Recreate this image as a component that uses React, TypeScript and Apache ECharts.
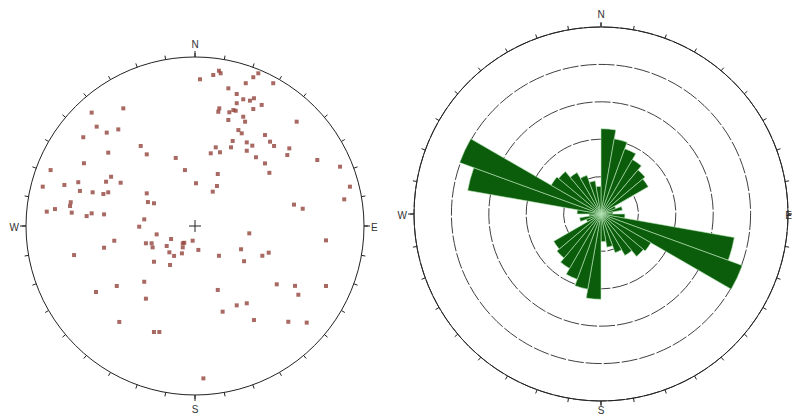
import React, { useEffect, useRef } from "react";
import * as echarts from "echarts";

// Poles to joint planes, lower-hemisphere projection, as (east, north) on the unit circle
const POLES: [number, number][] = [
  [0.03, 0.858], [0.109, 0.883], [0.143, 0.908], [0.153, 0.893], [0.348, 0.87],
  [0.378, 0.893], [0.467, 0.835], [0.303, 0.835], [0.199, 0.805], [0.249, 0.772],
  [0.288, 0.741], [0.328, 0.733], [0.352, 0.747], [0.249, 0.718], [0.398, 0.708],
  [0.348, 0.684], [0.145, 0.688], [0.139, 0.668], [0.205, 0.665], [0.229, 0.678],
  [0.243, 0.674], [0.288, 0.639], [0.299, 0.61], [0.199, 0.62], [0.607, 0.61],
  [0.259, 0.561], [0.279, 0.542], [0.418, 0.532], [0.448, 0.493], [0.472, 0.468],
  [0.225, 0.497], [0.309, 0.489], [0.342, 0.47], [0.215, 0.46], [0.124, 0.46],
  [0.094, 0.425], [0.149, 0.431], [0.309, 0.44], [0.364, 0.402], [0.563, 0.454],
  [0.551, 0.415], [0.418, 0.366], [0.444, 0.311], [0.73, 0.386], [0.866, 0.347],
  [0.925, 0.23], [0.891, 0.156], [0.591, 0.125], [0.643, 0.101], [0.136, 0.304],
  [0.131, 0.234], [0.106, 0.201], [0.006, 0.25], [-0.06, 0.327], [-0.115, 0.398],
  [-0.288, 0.419], [-0.324, 0.468], [-0.288, 0.191], [-0.281, 0.14], [-0.245, 0.133],
  [-0.303, 0.039], [-0.333, -0.004], [-0.617, 0.663], [-0.428, 0.688], [-0.587, 0.581],
  [-0.527, 0.546], [-0.458, 0.565], [-0.667, 0.519], [-0.518, 0.429], [-0.663, 0.367],
  [-0.862, 0.327], [-0.909, 0.23], [-0.78, 0.24], [-0.697, 0.256], [-0.687, 0.205],
  [-0.611, 0.197], [-0.547, 0.187], [-0.518, 0.197], [-0.531, 0.259], [-0.501, 0.288],
  [-0.444, 0.253], [-0.885, 0.084], [-0.836, 0.099], [-0.742, 0.139], [-0.746, 0.117],
  [-0.736, 0.078], [-0.647, 0.058], [-0.617, 0.074], [-0.543, 0.068], [-0.482, -0.086],
  [-0.543, -0.127], [-0.722, -0.17], [-0.229, -0.049], [-0.293, -0.101], [-0.259, -0.101],
  [-0.253, -0.125], [-0.169, -0.117], [-0.143, -0.076], [-0.153, -0.154], [-0.125, -0.175],
  [-0.073, -0.101], [-0.064, -0.098], [-0.073, -0.125], [-0.078, -0.16], [-0.014, -0.086],
  [0.02, -0.14], [-0.245, -0.209], [-0.149, -0.228], [0.324, -0.043], [0.275, -0.136],
  [0.293, -0.206], [0.143, -0.174], [0.402, -0.174], [0.44, -0.156], [0.782, -0.084],
  [-0.303, -0.326], [-0.467, -0.351], [-0.591, -0.386], [-0.293, -0.425], [0.136, -0.374],
  [0.488, -0.341], [0.597, -0.35], [0.617, -0.402], [0.782, -0.351], [0.165, -0.501],
  [0.249, -0.464], [0.309, -0.452], [-0.452, -0.561], [-0.245, -0.62], [-0.213, -0.62],
  [0.352, -0.55], [0.557, -0.56], [0.667, -0.565], [0.05, -0.891],
];

// Strike rose: 10° bins, frequency in percent (bidirectional, 0°–180° mirrored to 180°–360°)
const BIN_STARTS = [0, 10, 20, 30, 40, 50, 60, 70, 80, 90, 100, 110, 120, 130, 140, 150, 160, 170];
const STRIKE_FREQ = [11.4, 10.2, 9.3, 8.4, 7.7, 7.3, 2.1, 2.9, 1.6, 3.2, 18.1, 20.1, 7.7, 7.4, 6.4, 5.5, 4.5, 3.7];
const RING_MAX = 25;
const RING_STEP = 5;

const BINS = [...BIN_STARTS, ...BIN_STARTS.map((b) => b + 180)].map((b) => `${b}°`);
const ROSE = [...STRIKE_FREQ, ...STRIKE_FREQ];

const NET = { cx: 195, cy: 226, r: 169 };
const RING = { cx: 601, cy: 214, r: 187 };
const INK = "#222";
const FONT = "'Liberation Sans', Arial, sans-serif";

function label(text: string, x: number, y: number, align: string = "center") {
  return {
    type: "text",
    x,
    y,
    style: { text, fill: "#333", font: `10px ${FONT}`, align, verticalAlign: "middle" },
  };
}

function tick(x1: number, y1: number, x2: number, y2: number) {
  return { type: "line", shape: { x1, y1, x2, y2 }, style: { stroke: INK, lineWidth: 1 } };
}

export default function App() {
  const ref = useRef<HTMLDivElement>(null);

  useEffect(() => {
    if (!ref.current) return;
    const chart = echarts.init(ref.current, undefined, { renderer: "svg" });

    const angleCommon = {
      startAngle: 90,
      clockwise: true,
      axisLine: { show: true, lineStyle: { color: INK, width: 1 } },
      axisTick: { show: true, inside: false, length: 4, lineStyle: { color: INK, width: 1 } },
      axisLabel: { show: false },
      splitLine: { show: false },
    };

    chart.setOption({
      animation: false,
      backgroundColor: "#fff",
      polar: [
        { center: [NET.cx, NET.cy], radius: NET.r },
        { center: [RING.cx, RING.cy], radius: RING.r },
      ],
      angleAxis: [
        { ...angleCommon, polarIndex: 0, type: "value", min: 0, max: 360, interval: 10 },
        {
          ...angleCommon,
          polarIndex: 1,
          type: "category",
          data: BINS,
          boundaryGap: true,
          axisTick: { ...angleCommon.axisTick, interval: 0, alignWithLabel: false },
        },
      ],
      radiusAxis: [
        { polarIndex: 0, type: "value", min: 0, max: 1, show: false },
        {
          polarIndex: 1,
          type: "value",
          min: 0,
          max: RING_MAX,
          interval: RING_STEP,
          axisLine: { show: false },
          axisTick: { show: false },
          axisLabel: { show: false },
          splitLine: { show: true, lineStyle: { color: "#2a2a2a", width: 0.9, type: [16, 2] } },
        },
      ],
      grid: { left: 27.5, top: 55, width: 335, height: 342 },
      xAxis: { type: "value", min: -1, max: 1, show: false },
      yAxis: { type: "value", min: -1, max: 1, show: false },
      series: [
        {
          type: "scatter",
          coordinateSystem: "polar",
          polarIndex: 0,
          data: [],
          silent: true,
        },
        {
          name: "Strike",
          type: "bar",
          coordinateSystem: "polar",
          polarIndex: 1,
          data: ROSE,
          barCategoryGap: "0%",
          itemStyle: { color: "#0b5d0b", borderColor: "#b8e6b8", borderWidth: 0.6 },
          silent: true,
        },
        {
          name: "Poles",
          type: "scatter",
          coordinateSystem: "cartesian2d",
          data: POLES,
          symbol: "rect",
          symbolSize: 4,
          itemStyle: { color: "#94433c" },
          silent: true,
        },
      ],
      graphic: [
        // stereonet centre cross and cardinal marks
        tick(NET.cx - 6, NET.cy, NET.cx + 6, NET.cy),
        tick(NET.cx, NET.cy - 6, NET.cx, NET.cy + 6),
        tick(NET.cx, NET.cy - NET.r, NET.cx, NET.cy - NET.r - 6),
        tick(NET.cx, NET.cy + NET.r, NET.cx, NET.cy + NET.r + 6),
        tick(NET.cx - NET.r, NET.cy, NET.cx - NET.r - 6, NET.cy),
        tick(NET.cx + NET.r, NET.cy, NET.cx + NET.r + 6, NET.cy),
        label("N", NET.cx, NET.cy - NET.r - 13),
        label("S", NET.cx, NET.cy + NET.r + 14),
        label("W", NET.cx - NET.r - 7, NET.cy + 1, "right"),
        label("E", NET.cx + NET.r + 7, NET.cy + 1, "left"),
        // rose cardinal marks
        tick(RING.cx, RING.cy - RING.r, RING.cx, RING.cy - RING.r - 5),
        tick(RING.cx, RING.cy + RING.r, RING.cx, RING.cy + RING.r + 5),
        tick(RING.cx - RING.r, RING.cy, RING.cx - RING.r - 6, RING.cy),
        tick(RING.cx + RING.r, RING.cy, RING.cx + RING.r + 3, RING.cy),
        label("N", RING.cx, RING.cy - RING.r - 13),
        label("S", RING.cx, 410),
        label("W", RING.cx - RING.r - 7, RING.cy + 1, "right"),
        label("E", 792, RING.cy + 1, "right"),
      ],
    });

    return () => chart.dispose();
  }, []);

  return (
    <div
      ref={ref}
      style={{ position: "absolute", left: 0, top: 0, width: 793, height: 417, background: "#fff" }}
    />
  );
}
